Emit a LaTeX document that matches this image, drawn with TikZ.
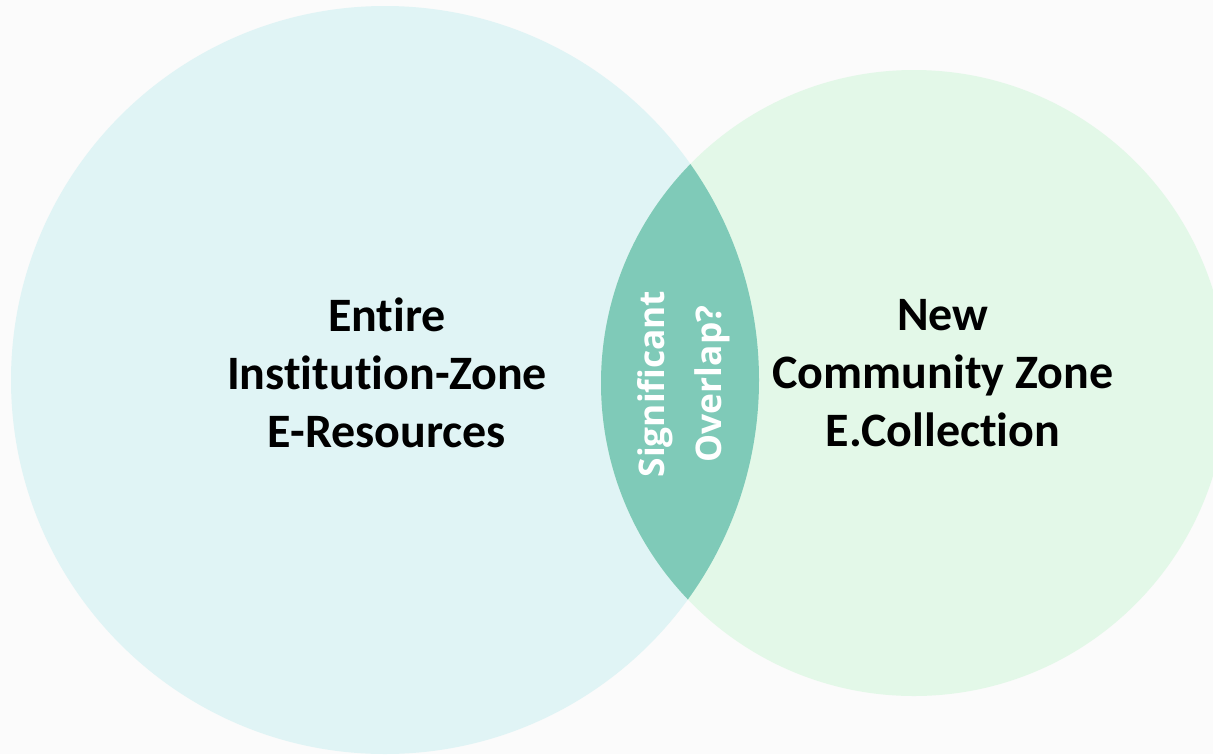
\documentclass[tikz,border=0pt]{standalone}
\usepackage{fontspec}
\setmainfont[Ligatures=NoCommon]{Carlito}
\newfontfamily\lensfont[Ligatures=NoCommon]{Open Sans}
\definecolor{bgc}{HTML}{FBFBFB}
\definecolor{leftc}{HTML}{E0F4F5}
\definecolor{rightc}{HTML}{E3F8E8}
\definecolor{lensc}{HTML}{7FCAB8}
\begin{document}
\begin{tikzpicture}[x=0.75pt,y=-0.75pt,
  zonelabel/.style={font=\bfseries\fontsize{36}{43.5}\selectfont, align=center, text=black},
  lenslabel/.style={font=\lensfont\bfseries\fontsize{26.5}{43}\selectfont, align=center, text=white, rotate=90}]
\fill[bgc] (0,0) rectangle (1213,754);
\useasboundingbox (0,0) rectangle (1213,754);
\coordinate (lc) at (385,380);
\coordinate (rc) at (914,383);
\begin{scope}
\clip (0,0) rectangle (1213,754);
\fill[leftc] (lc) circle[radius=374];
\fill[rightc] (rc) circle[radius=313];
\clip (lc) circle[radius=374];
\fill[lensc] (rc) circle[radius=313];
\end{scope}
\node[zonelabel] (left) at (387,373) {Entire\\Institution-Zone\\E-Resources};
\node[zonelabel] (right) at (943,373) {New\\Community Zone\\E.Collection};
\node[lenslabel] (overlap) at (684,384) {Significant\\Overlap?};
\end{tikzpicture}
\end{document}
